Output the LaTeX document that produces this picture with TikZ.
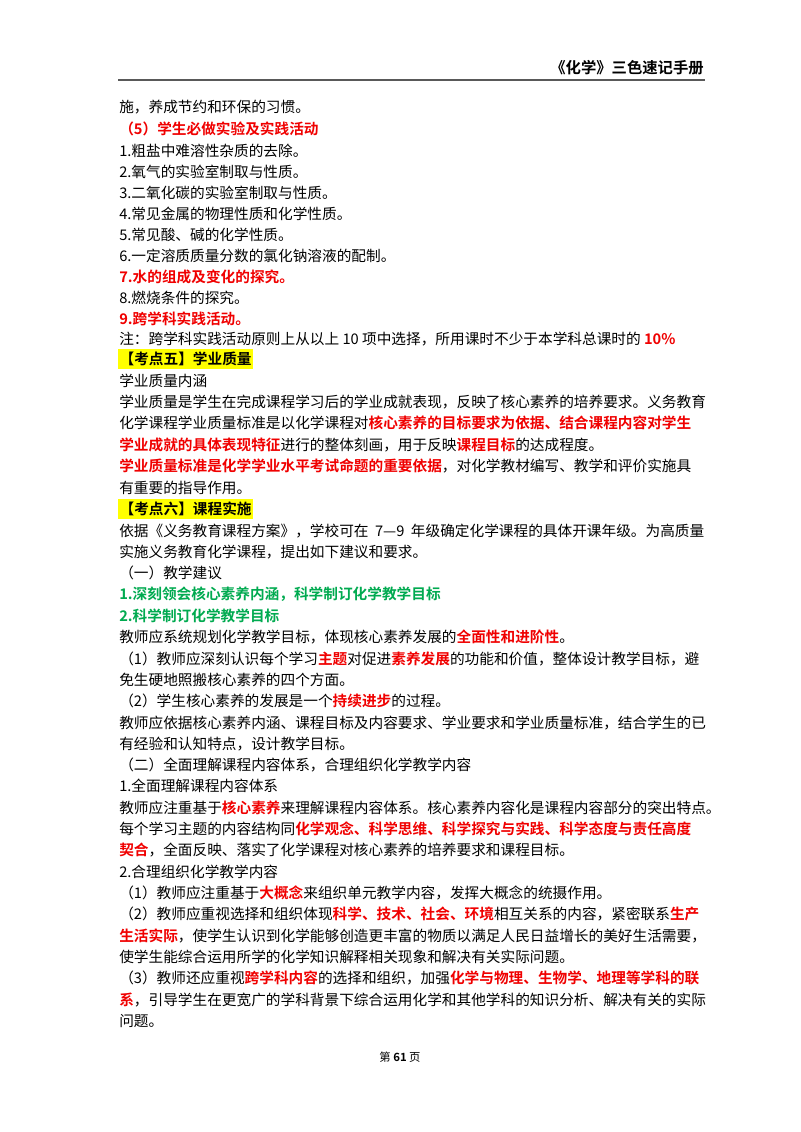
\documentclass[tikz,border=0pt]{standalone}
\usepackage{fontspec}
\setmainfont{Noto Sans CJK SC}[BoldFont={Noto Sans CJK SC Bold}]
\definecolor{rd}{RGB}{240,0,0}
\definecolor{gn}{RGB}{0,170,80}
\definecolor{hl}{RGB}{255,255,0}
\newcommand\R[1]{\textbf{\textcolor{rd}{#1}}}
\newcommand\G[1]{\textbf{\textcolor{gn}{#1}}}
\newcommand\J[1]{\hbox to 438.75pt{#1}}
\XeTeXlinebreaklocale "zh"
\XeTeXlinebreakskip=0pt plus 4pt
\begin{document}
\begin{tikzpicture}[x=0.75pt,y=-0.75pt,
  txt/.style={anchor=west,inner sep=0pt,font=\fontsize{11pt}{13pt}\selectfont},
  hd/.style={txt,fill=hl,inner xsep=1pt,inner ysep=2pt}]
\useasboundingbox (0,0) rectangle (800,1132);
\fill[white] (0,0) rectangle (800,1132);
\node[anchor=east,inner sep=0pt,font=\fontsize{11.5pt}{13pt}\selectfont\bfseries] (head) at (704,68) {《化学》三色速记手册};
\coordinate (r1) at (118,80); \coordinate (r2) at (705,80);
\draw[line width=0.8pt,gray!70!black] (r1) -- (r2);
\node[txt] (l1) at (119,107) {施，养成节约和环保的习惯。};
\node[txt] (l2) at (119,129) {\R{（5）学生必做实验及实践活动}};
\node[txt] (l3) at (119,151) {1.粗盐中难溶性杂质的去除。};
\node[txt] (l4) at (119,172) {2.氧气的实验室制取与性质。};
\node[txt] (l5) at (119,193) {3.二氧化碳的实验室制取与性质。};
\node[txt] (l6) at (119,214) {4.常见金属的物理性质和化学性质。};
\node[txt] (l7) at (119,235) {5.常见酸、碱的化学性质。};
\node[txt] (l8) at (119,256) {6.一定溶质质量分数的氯化钠溶液的配制。};
\node[txt] (l9) at (119,277) {\R{7.水的组成及变化的探究。}};
\node[txt] (l10) at (119,298) {8.燃烧条件的探究。};
\node[txt] (l11) at (119,319) {\R{9.跨学科实践活动。}};
\node[txt] (l12) at (119,339) {注：跨学科实践活动原则上从以上 10 项中选择，所用课时不少于本学科总课时的 \R{10\%}};
\node[hd] (l13) at (118,359) {\textbf{【考点五】学业质量}};
\node[txt] (l14) at (119,381) {学业质量内涵};
\node[txt] (l15) at (119,402) {\J{学业质量是学生在完成课程学习后的学业成就表现，反映了核心素养的培养要求。义务教育}};
\node[txt] (l16) at (119,423) {\J{化学课程学业质量标准是以化学课程对\R{核心素养的目标要求为依据、结合课程内容对学生}}};
\node[txt] (l17) at (119,445) {\R{学业成就的具体表现特征}进行的整体刻画，用于反映\R{课程目标}的达成程度。};
\node[txt] (l18) at (119,466) {\J{\R{学业质量标准是化学学业水平考试命题的重要依据}，对化学教材编写、教学和评价实施具}};
\node[txt] (l19) at (119,488) {有重要的指导作用。};
\node[hd] (l20) at (118,509) {\textbf{【考点六】课程实施}};
\node[txt] (l21) at (119,531) {\J{依据《义务教育课程方案》，学校可在 7—9 年级确定化学课程的具体开课年级。为高质量}};
\node[txt] (l22) at (119,552) {实施义务教育化学课程，提出如下建议和要求。};
\node[txt] (l23) at (119,573) {（一）教学建议};
\node[txt] (l24) at (119,594) {\G{1.深刻领会核心素养内涵，科学制订化学教学目标}};
\node[txt] (l25) at (119,616) {\G{2.科学制订化学教学目标}};
\node[txt] (l26) at (119,637) {教师应系统规划化学教学目标，体现核心素养发展的\R{全面性和进阶性}。};
\node[txt] (l27) at (119,659) {\J{（1）教师应深刻认识每个学习\R{主题}对促进\R{素养发展}的功能和价值，整体设计教学目标，避}};
\node[txt] (l28) at (119,680) {免生硬地照搬核心素养的四个方面。};
\node[txt] (l29) at (119,701) {（2）学生核心素养的发展是一个\R{持续进步}的过程。};
\node[txt] (l30) at (119,723) {\J{教师应依据核心素养内涵、课程目标及内容要求、学业要求和学业质量标准，结合学生的已}};
\node[txt] (l31) at (119,744) {有经验和认知特点，设计教学目标。};
\node[txt] (l32) at (119,765) {（二）全面理解课程内容体系，合理组织化学教学内容};
\node[txt] (l33) at (119,786) {1.全面理解课程内容体系};
\node[txt] (l34) at (119,808) {教师应注重基于\R{核心素养}来理解课程内容体系。核心素养内容化是课程内容部分的突出特点。};
\node[txt] (l35) at (119,829) {\J{每个学习主题的内容结构同\R{化学观念、科学思维、科学探究与实践、科学态度与责任高度}}};
\node[txt] (l36) at (119,850) {\R{契合}，全面反映、落实了化学课程对核心素养的培养要求和课程目标。};
\node[txt] (l37) at (119,872) {2.合理组织化学教学内容};
\node[txt] (l38) at (119,893) {（1）教师应注重基于\R{大概念}来组织单元教学内容，发挥大概念的统摄作用。};
\node[txt] (l39) at (119,914) {\J{（2）教师应重视选择和组织体现\R{科学、技术、社会、环境}相互关系的内容，紧密联系\R{生产}}};
\node[txt] (l40) at (119,936) {\J{\R{生活实际}，使学生认识到化学能够创造更丰富的物质以满足人民日益增长的美好生活需要，}};
\node[txt] (l41) at (119,957) {使学生能综合运用所学的化学知识解释相关现象和解决有关实际问题。};
\node[txt] (l42) at (119,978) {\J{（3）教师还应重视\R{跨学科内容}的选择和组织，加强\R{化学与物理、生物学、地理等学科的联}}};
\node[txt] (l43) at (119,1000) {\J{\R{系}，引导学生在更宽广的学科背景下综合运用化学和其他学科的知识分析、解决有关的实际}};
\node[txt] (l44) at (119,1021) {问题。};
\node[inner sep=0pt,font=\fontsize{8.5pt}{10pt}\selectfont] (pg) at (400,1057) {第 \textbf{61} 页};
\end{tikzpicture}
\end{document}
